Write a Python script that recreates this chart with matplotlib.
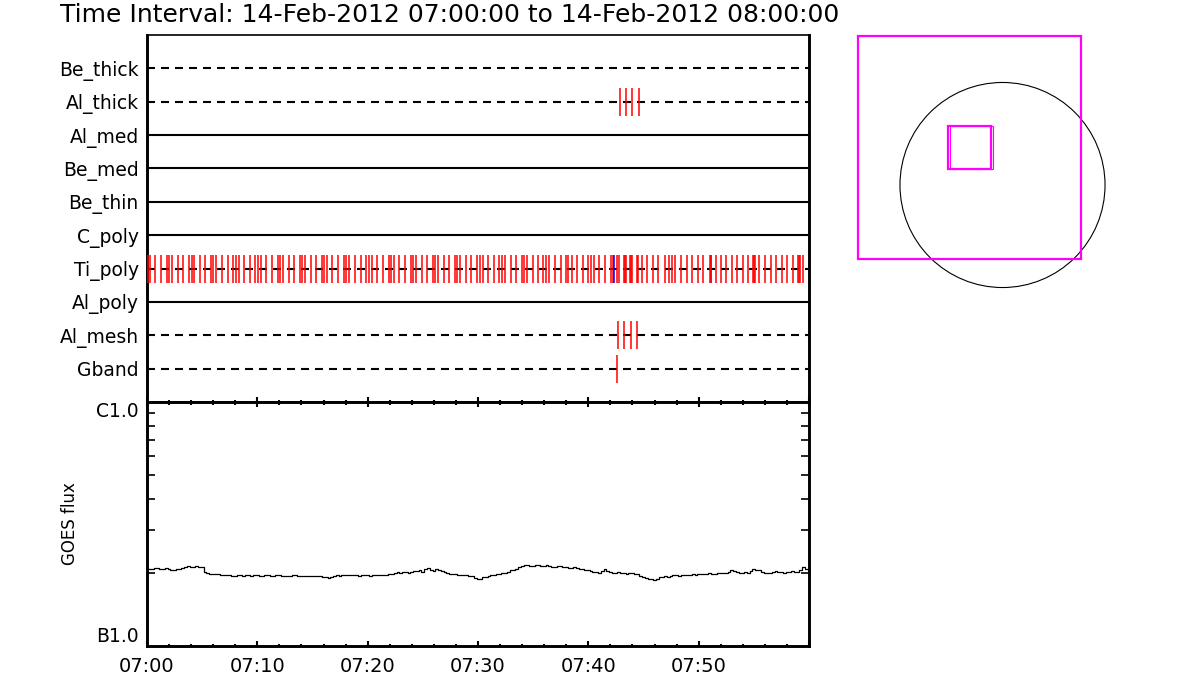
import matplotlib
matplotlib.use("Agg")
import matplotlib.pyplot as plt
from matplotlib.patches import Circle, Rectangle
from matplotlib.ticker import FixedLocator, MultipleLocator, NullFormatter

plt.rcParams['font.family'] = ['DejaVu Sans']

# ---------------- data ----------------
title = "Time Interval: 14-Feb-2012 07:00:00 to 14-Feb-2012 08:00:00"

filters = ['Be_thick', 'Al_thick', 'Al_med', 'Be_med', 'Be_thin',
           'C_poly', 'Ti_poly', 'Al_poly', 'Al_mesh', 'Gband']
filter_dashed = [True, True, False, False, False, False, True, False, True, True]

# exposure times, minutes after 07:00
ti_poly_times = [
    0.06, 0.24, 0.75, 1.27, 1.79,
    2.02, 2.29, 2.78, 3.29, 3.81,
    4.05, 4.29, 4.80, 5.28, 5.77,
    6.01, 6.28, 6.82, 7.31, 7.82,
    8.04, 8.31, 8.82, 9.31, 9.82,
    10.09, 10.33, 10.81, 11.33, 11.85,
    12.08, 12.33, 12.84, 13.35, 13.84,
    14.08, 14.35, 14.84, 15.32, 15.83,
    16.05, 16.30, 16.80, 17.27, 17.85,
    18.01, 18.34, 18.88, 19.37, 19.84,
    20.15, 20.37, 20.87, 21.36, 21.91,
    22.14, 22.39, 22.87, 23.41, 23.90,
    24.14, 24.38, 24.90, 25.41, 25.92,
    26.08, 26.37, 26.92, 27.40, 27.92,
    28.10, 28.40, 28.91, 29.39, 29.91,
    30.15, 30.42, 30.92, 31.42, 31.93,
    32.20, 32.45, 32.96, 33.44, 33.96,
    34.17, 34.47, 34.96, 35.47, 35.92,
    36.16, 36.46, 36.98, 37.50, 37.98,
    38.19, 38.49, 39.00, 39.49, 40.00,
    40.22, 40.51, 40.99, 41.51, 42.03,
    42.21, 42.57, 42.81, 43.26, 43.34, 43.41, 43.78, 43.85, 43.93,
    44.38, 44.53, 44.84, 45.29, 45.84, 46.34, 46.95, 47.34, 47.56,
    47.86, 48.37, 48.92, 49.37, 49.97, 50.42, 51.00, 51.08, 51.15,
    51.56, 52.00, 52.48, 53.00, 53.45, 53.99, 54.50, 54.95, 55.02,
    55.10, 55.50, 56.02, 56.53, 57.01, 57.53, 57.98, 58.52, 59.03,
    59.10, 59.18, 59.48,
]
ti_poly_blue_times = [42.33]
al_thick_times = [42.90, 43.44, 43.98, 44.62]
al_mesh_times = [42.72, 43.26, 43.89, 44.44]
gband_times = [42.63]

# GOES flux, units of 1e-7 W/m^2, 15 s cadence from 07:00 to 08:00
goes_flux = [
    2.08, 2.06, 2.07, 2.09, 2.08, 2.07, 2.06, 2.08, 2.07, 2.05,
    2.04, 2.06, 2.06, 2.09, 2.10, 2.12, 2.11, 2.10, 2.12, 2.11,
    2.10, 2.02, 1.99, 1.97, 1.97, 1.98, 1.97, 1.96, 1.95, 1.96,
    1.96, 1.94, 1.94, 1.96, 1.95, 1.94, 1.96, 1.95, 1.94, 1.95,
    1.95, 1.94, 1.93, 1.95, 1.95, 1.93, 1.94, 1.95, 1.95, 1.94,
    1.93, 1.94, 1.94, 1.96, 1.95, 1.94, 1.93, 1.94, 1.94, 1.93,
    1.93, 1.94, 1.94, 1.93, 1.92, 1.91, 1.90, 1.92, 1.93, 1.95,
    1.94, 1.95, 1.96, 1.95, 1.95, 1.96, 1.96, 1.94, 1.95, 1.96,
    1.96, 1.94, 1.95, 1.96, 1.96, 1.95, 1.95, 1.96, 1.97, 1.98,
    1.99, 2.01, 2.00, 2.02, 2.02, 2.00, 2.01, 2.03, 2.03, 2.05,
    2.02, 2.06, 2.09, 2.04, 2.03, 2.06, 2.05, 2.03, 2.02, 2.00,
    1.98, 1.97, 1.97, 1.96, 1.96, 1.95, 1.95, 1.94, 1.93, 1.90,
    1.89, 1.88, 1.91, 1.92, 1.94, 1.95, 1.96, 1.97, 1.98, 1.99,
    2.00, 2.02, 2.04, 2.05, 2.06, 2.10, 2.13, 2.15, 2.14, 2.13,
    2.13, 2.15, 2.14, 2.13, 2.12, 2.14, 2.13, 2.11, 2.11, 2.12,
    2.12, 2.10, 2.10, 2.09, 2.09, 2.10, 2.08, 2.07, 2.07, 2.05,
    2.04, 2.03, 2.02, 2.01, 2.00, 2.03, 2.06, 2.03, 2.01, 2.00,
    1.99, 2.01, 2.00, 1.99, 1.98, 2.00, 1.99, 1.98, 1.97, 1.94,
    1.92, 1.90, 1.89, 1.88, 1.87, 1.89, 1.91, 1.92, 1.93, 1.92,
    1.94, 1.95, 1.96, 1.94, 1.95, 1.96, 1.96, 1.95, 1.97, 1.96,
    1.98, 1.97, 1.97, 1.98, 1.99, 1.98, 1.98, 2.00, 1.99, 2.00,
    2.00, 2.02, 2.04, 2.03, 2.02, 2.00, 1.99, 2.01, 2.00, 2.03,
    2.06, 2.04, 2.05, 2.02, 2.00, 1.99, 1.99, 2.01, 2.03, 2.01,
    2.02, 2.00, 2.01, 2.02, 2.03, 2.01, 2.02, 2.05, 2.10, 2.06,
    2.04,
]
goes_cadence_min = 0.25

time_tick_labels = ['07:00', '07:10', '07:20', '07:30', '07:40', '07:50', '']
goes_level_labels = ['B1.0', 'C1.0']

# pointing map (arcsec)
sun_radius = 975.0
fov_centers_x = [-314.0, -314.0, -295.0]
fov_centers_y = [361.0, 361.0, 361.0]
fov_sizes = [2120.0, 409.0, 409.0]
fov_widths = [1.6, 1.6, 0.8]

# ---------------- figure ----------------
fig = plt.figure(figsize=(12, 7), dpi=100)
fig.patch.set_facecolor('white')

fig.text(0.05, 0.978, title, fontsize=18, ha='left', va='center', color='black')

# --- top panel: filter timeline
ax1 = fig.add_axes([0.1225, 0.4257, 0.5517, 0.5243])
n = len(filters)
row_pos = [n - i for i in range(n)]
events = {'Al_thick': al_thick_times, 'Ti_poly': ti_poly_times,
          'Al_mesh': al_mesh_times, 'Gband': gband_times}
for name, y, dashed in zip(filters, row_pos, filter_dashed):
    if dashed:
        ax1.plot([0, 60], [y, y], color='black', lw=1.5, dashes=(3.84, 2.88),
                 dash_capstyle='butt', zorder=2)
    else:
        ax1.plot([0, 60], [y, y], color='black', lw=1.5, zorder=2)
    if name in events:
        ax1.vlines(events[name], y - 0.42, y + 0.42, color='#ff0000',
                   lw=1.1, zorder=3)
    if name == 'Ti_poly':
        ax1.vlines(ti_poly_blue_times, y - 0.42, y + 0.42, color='#0000ff',
                   lw=1.1, zorder=4)

ax1.set_xlim(0, 60)
ax1.set_ylim(0, n + 1)
ax1.set_yticks(row_pos)
ax1.set_yticklabels(filters)
ax1.tick_params(axis='y', length=0, pad=6, labelsize=13.5)
ax1.xaxis.set_major_locator(MultipleLocator(10))
ax1.xaxis.set_minor_locator(MultipleLocator(2))
ax1.tick_params(axis='x', which='both', direction='in', bottom=True, top=False,
                labelbottom=False, width=1.5)
ax1.tick_params(axis='x', which='major', length=3.6)
ax1.tick_params(axis='x', which='minor', length=1.8)
for key, sp in ax1.spines.items():
    sp.set_linewidth(1.2 if key == 'top' else 2.1)

# --- bottom panel: GOES flux
ax2 = fig.add_axes([0.1225, 0.0771, 0.5517, 0.3486])
goes_t = [i * goes_cadence_min for i in range(len(goes_flux))]
ax2.plot(goes_t, [v * 1e-7 for v in goes_flux], color='black', lw=0.9,
         drawstyle='steps-mid')
ax2.set_xlim(0, 60)
ax2.set_yscale('log')
ax2.set_ylim(1e-7, 1e-6)
ax2.yaxis.set_major_locator(FixedLocator([1e-7, 1e-6]))
ax2.set_yticklabels(goes_level_labels)
ax2.yaxis.set_minor_locator(FixedLocator([k * 1e-7 for k in range(2, 10)]))
ax2.yaxis.set_minor_formatter(NullFormatter())
ax2.tick_params(axis='y', which='both', direction='in', left=True, right=True,
                labelsize=13.5, pad=6, width=1.2)
ax2.tick_params(axis='y', which='major', length=0)
ax2.tick_params(axis='y', which='minor', length=6)
ylabels = ax2.get_yticklabels()
ylabels[0].set_va('bottom')
ylabels[1].set_va('top')
ax2.set_xticks([0, 10, 20, 30, 40, 50, 60])
ax2.set_xticklabels(time_tick_labels)
ax2.xaxis.set_minor_locator(MultipleLocator(2))
ax2.tick_params(axis='x', which='both', direction='in', bottom=True, top=True,
                labelsize=14, pad=8, width=1.5)
ax2.tick_params(axis='x', which='major', length=3.6)
ax2.tick_params(axis='x', which='minor', length=1.8)
ax2.set_ylabel('GOES flux', fontsize=12, labelpad=12)
for sp in ax2.spines.values():
    sp.set_linewidth(2.1)

# --- right panel: pointing map
ax3 = fig.add_axes([850 / 1200, 1 - 295 / 700, 260 / 1200, 265 / 700])
ax3.set_xlim(-1450, 1022)
ax3.set_ylim(-1046, 1474)
ax3.set_aspect('equal')
ax3.axis('off')
ax3.add_patch(Circle((0, 0), sun_radius, fill=False, ec='black', lw=0.8))
for cx, cy, s, w in zip(fov_centers_x, fov_centers_y, fov_sizes, fov_widths):
    ax3.add_patch(Rectangle((cx - s / 2, cy - s / 2), s, s, fill=False,
                            ec='#ff00ff', lw=w))

fig.savefig('out.png', dpi=100, facecolor='white')
